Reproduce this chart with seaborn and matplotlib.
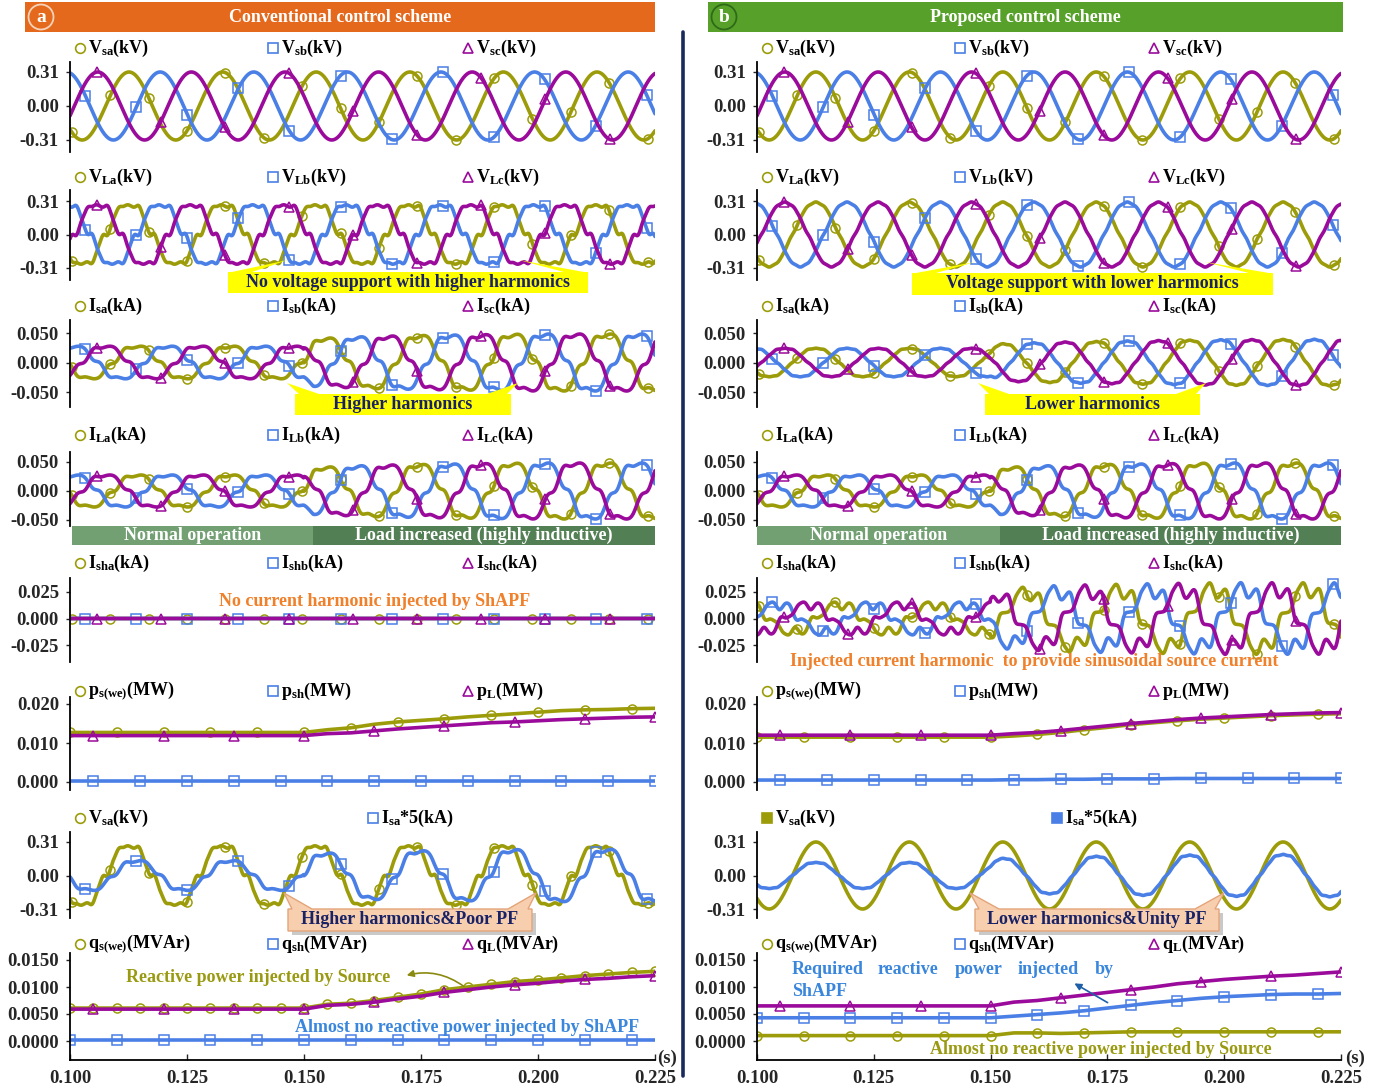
import numpy as np
import matplotlib
matplotlib.use("Agg")
import matplotlib.pyplot as plt
import seaborn as sns
from matplotlib.patches import Rectangle, Polygon, Ellipse, FancyArrowPatch
from matplotlib.lines import Line2D

sns.set_theme(style="white")
plt.rcParams["font.family"] = ["Liberation Serif", "DejaVu Serif"]
plt.rcParams["font.weight"] = "bold"
plt.rcParams["mathtext.fontset"] = "custom"
plt.rcParams["mathtext.rm"] = "Liberation Serif:bold"
plt.rcParams["mathtext.bf"] = "Liberation Serif:bold"
plt.rcParams["mathtext.it"] = "Liberation Serif:bold"

# ---------------------------------------------------------------- data
T_START, T_END, DT = 0.100, 0.225, 0.0001
F_GRID = 50.0
T_PEAK_VA = 0.1126                        # crest instant of phase-a source voltage
PHASE_SHIFT = [0.0, -2 * np.pi / 3, 2 * np.pi / 3]   # phases a, b, c

VS_AMP = 0.31

# load-bus voltage harmonic content: order, amplitude (kV), phase (rad)
VL_CONV_ORDER = [1, 5, 7, 11, 13]
VL_CONV_AMP = [0.285, 0.030, 0.016, 0.007, 0.004]
VL_CONV_PHASE = [0.0, np.pi, 0.4, 0.0, np.pi]

VL_PROP_ORDER = [1, 5, 7, 11]
VL_PROP_AMP = [0.300, 0.006, 0.004, 0.003]
VL_PROP_PHASE = [0.0, np.pi, 0.0, 0.0]

# load current: relative harmonic spectrum and envelope
IL_ORDER = [1, 5, 7]
IL_REL = [1.0, 0.12, 0.04]
IL_PHASE = [0.0, np.pi + 0.5, 0.0]
IL_ENV_T = [0.100, 0.150, 0.152, 0.165, 0.180, 0.200, 0.225]
IL_ENV_A = [0.028, 0.028, 0.041, 0.045, 0.047, 0.049, 0.049]
IL_LAG = [0.0016, 0.0020]                 # before / after the load step (s)
T_LOAD_STEP = 0.150

# compensated source current (proposed scheme)
IS_PROP_ORDER = [1, 5, 11]
IS_PROP_REL = [1.0, 0.03, 0.02]
IS_PROP_ENV_A = [0.0245, 0.0245, 0.032, 0.035, 0.037, 0.039, 0.040]

ISH_CONV_LEVEL = 0.0

# powers sampled every 5 ms from 0.100 s to 0.225 s
T_PQ = [0.100, 0.105, 0.110, 0.115, 0.120, 0.125, 0.130, 0.135, 0.140, 0.145,
        0.150, 0.155, 0.160, 0.165, 0.170, 0.175, 0.180, 0.185, 0.190, 0.195,
        0.200, 0.205, 0.210, 0.215, 0.220, 0.225]
PS_CONV = [0.0127] * 11 + [0.0134, 0.0139, 0.0148, 0.0154, 0.0158, 0.0162, 0.0167,
                           0.0171, 0.0175, 0.0179, 0.0183, 0.0185, 0.0186, 0.0188, 0.0189]
PSH_CONV = [0.0002] * 26
PL_CONV = [0.0119] * 11 + [0.0124, 0.0126, 0.0131, 0.0136, 0.0140, 0.0144, 0.0148,
                           0.0152, 0.0154, 0.0157, 0.0160, 0.0162, 0.0164, 0.0166, 0.0167]
PS_PROP = [0.0115] * 11 + [0.0118, 0.0122, 0.0127, 0.0134, 0.0140, 0.0147, 0.0152,
                           0.0157, 0.0161, 0.0164, 0.0167, 0.0170, 0.0172, 0.0174, 0.0175]
PSH_PROP = [0.0005] * 11 + [0.0006, 0.0006, 0.0007, 0.0007, 0.0008, 0.0008, 0.0008,
                            0.0009, 0.0009, 0.0009, 0.0009, 0.0009, 0.0009, 0.0009, 0.0009]
PL_PROP = [0.0120] * 11 + [0.0124, 0.0127, 0.0132, 0.0138, 0.0144, 0.0150, 0.0155,
                           0.0160, 0.0164, 0.0167, 0.0170, 0.0173, 0.0175, 0.0177, 0.0178]

QS_CONV = [0.0061] * 11 + [0.0068, 0.0070, 0.0075, 0.0081, 0.0087, 0.0095, 0.0100,
                           0.0105, 0.0110, 0.0113, 0.0117, 0.0121, 0.0124, 0.0127, 0.0129]
QSH_CONV = [0.0001] * 26
QL_CONV = [0.0059] * 11 + [0.0066, 0.0068, 0.0072, 0.0078, 0.0083, 0.0090, 0.0095,
                           0.0100, 0.0104, 0.0107, 0.0111, 0.0114, 0.0116, 0.0119, 0.0121]
QS_PROP = [0.0010] * 11 + [0.0015, 0.0015, 0.0014, 0.0015, 0.0016, 0.0017, 0.0017,
                           0.0017, 0.0017, 0.0017, 0.0017, 0.0017, 0.0017, 0.0017, 0.0017]
QSH_PROP = [0.0043] * 11 + [0.0046, 0.0049, 0.0052, 0.0056, 0.0061, 0.0066, 0.0071,
                            0.0075, 0.0079, 0.0082, 0.0084, 0.0086, 0.0087, 0.0087, 0.0088]
QL_PROP = [0.0065] * 11 + [0.0072, 0.0075, 0.0080, 0.0085, 0.0090, 0.0095, 0.0100,
                           0.0106, 0.0110, 0.0114, 0.0117, 0.0120, 0.0122, 0.0125, 0.0128]

XTICKS = [0.100, 0.125, 0.150, 0.175, 0.200, 0.225]
XTICK_LABELS = ["0.100", "0.125", "0.150", "0.175", "0.200", "0.225"]

# ---------------------------------------------------------------- signals
t = np.arange(T_START, T_END + DT / 2, DT)


def angle(ph, lag=0.0):
    return 2 * np.pi * F_GRID * (t - T_PEAK_VA - lag) + PHASE_SHIFT[ph]


def harmonic_wave(theta, orders, amps, phases):
    return sum(a * np.cos(n * theta + p) for n, a, p in zip(orders, amps, phases))


lag_t = np.where(t < T_LOAD_STEP, IL_LAG[0], IL_LAG[1])
il_env = np.interp(t, IL_ENV_T, IL_ENV_A)
is_env = np.interp(t, IL_ENV_T, IS_PROP_ENV_A)

VS = [VS_AMP * np.cos(angle(k)) for k in range(3)]
VL_CONV = [harmonic_wave(angle(k), VL_CONV_ORDER, VL_CONV_AMP, VL_CONV_PHASE) for k in range(3)]
VL_PROP = [harmonic_wave(angle(k), VL_PROP_ORDER, VL_PROP_AMP, VL_PROP_PHASE) for k in range(3)]
IL = [il_env * harmonic_wave(angle(k, lag_t), IL_ORDER, IL_REL, IL_PHASE) for k in range(3)]
IS_CONV = IL
IS_PROP = [is_env * harmonic_wave(angle(k), IS_PROP_ORDER, IS_PROP_REL, [0.0, np.pi, 0.0])
           for k in range(3)]
ISH_PROP = [IL[k] - IS_PROP[k] for k in range(3)]
ISH_CONV = [np.full_like(t, ISH_CONV_LEVEL) for _ in range(3)]

# ---------------------------------------------------------------- layout
W, H = 1390, 1091
fig = plt.figure(figsize=(W / 100, H / 100), dpi=100)

OLIVE, BLUE, PURPLE = "#9c9c0a", "#4a7fe6", "#9b0b9b"
PH_COLORS = [OLIVE, BLUE, PURPLE]
PH_MARKERS = ["o", "s", "^"]
MARK_STEP = [82, 109, 137]
MARK_OFF = [4, 33, 57]
NAVY = "#1a2266"
TICK_FS = 13.5
LEG_FS = 13

COL_X = {"L": (70, 655), "R": (757, 1341)}
ROW_Y = [(62, 152), (190, 280), (320, 407), (452, 526),
         (578, 662), (697, 790), (832, 918), (953, 1060)]
CAL = [(0.31, 72, -0.31, 140), (0.31, 201, -0.31, 268), (0.05, 333, -0.05, 392),
       (0.05, 462, -0.05, 520), (0.025, 592, -0.025, 645), (0.02, 704, 0.0, 782),
       (0.31, 842, -0.31, 909), (0.015, 960, 0.0, 1041)]
YT = [([-0.31, 0, 0.31], ["-0.31", "0.00", "0.31"])] * 2 + \
     [([-0.05, 0, 0.05], ["-0.050", "0.000", "0.050"])] * 2 + \
     [([-0.025, 0, 0.025], ["-0.025", "0.000", "0.025"]),
      ([0, 0.01, 0.02], ["0.000", "0.010", "0.020"]),
      ([-0.31, 0, 0.31], ["-0.31", "0.00", "0.31"]),
      ([0, 0.005, 0.01, 0.015], ["0.0000", "0.0050", "0.0100", "0.0150"])]


def fxy(px, py):
    return px / W, 1 - py / H


def make_ax(col, row):
    x0, x1 = COL_X[col]
    y0, y1 = ROW_Y[row]
    ax = fig.add_axes([x0 / W, 1 - y1 / H, (x1 - x0) / W, (y1 - y0) / H])
    v1, p1, v2, p2 = CAL[row]
    k = (v1 - v2) / (p2 - p1)
    ax.set_ylim(v1 + (p1 - y1) * k, v1 + (p1 - y0) * k)
    ax.set_xlim(T_START, T_END)
    ticks, labels = YT[row]
    ax.set_yticks(ticks)
    ax.set_yticklabels(labels, fontsize=TICK_FS, fontweight="bold")
    ax.tick_params(axis="y", direction="out", length=3, width=1.0, pad=5, left=True)
    for s in ["top", "right"]:
        ax.spines[s].set_visible(False)
    ax.spines["left"].set_color("black")
    ax.spines["left"].set_linewidth(1.3)
    if row == 7:
        ax.spines["bottom"].set_color("black")
        ax.spines["bottom"].set_linewidth(1.3)
        ax.set_xticks(XTICKS)
        ax.set_xticklabels(XTICK_LABELS, fontsize=TICK_FS, fontweight="bold")
        ax.tick_params(axis="x", direction="in", length=4, width=1.0, pad=7, bottom=True)
    else:
        ax.spines["bottom"].set_visible(False)
        ax.set_xticks([])
    ax.set_facecolor("none")
    ax.grid(False)
    return ax


def draw(ax, x, y, color, marker=None, every=None, lw=2.6, filled=False):
    kw = {}
    if marker is not None:
        kw = dict(marker=marker, markevery=every, ms=6.5, mew=1.1,
                  mfc=color if filled else "none", mec=color)
    sns.lineplot(x=x, y=y, ax=ax, color=color, lw=lw, estimator=None,
                 sort=False, legend=False, **kw)


def three_phase(ax, waves):
    for k in range(3):
        draw(ax, t, waves[k], PH_COLORS[k], PH_MARKERS[k], (MARK_OFF[k], MARK_STEP[k]))


def legend_row(y, items):
    for mx, label, color, marker, filled in items:
        fig.add_artist(Line2D([mx / W], [1 - y / H], transform=fig.transFigure,
                              marker=marker, ms=7 if not filled else 7.5, mew=1.2,
                              mfc=color if filled else "none", mec=color, ls="none"))
        fig.text((mx + 8) / W, 1 - y / H, label, ha="left", va="center",
                 fontsize=LEG_FS, fontweight="bold", color="black")


def fpoly(pts, fc, ec="none", lw=0, z=5):
    fig.add_artist(Polygon([fxy(*p) for p in pts], closed=True, transform=fig.transFigure,
                           fc=fc, ec=ec, lw=lw, zorder=z))


def callout(box, tips, fc, ec="none", text="", tcolor=NAVY, shadow=False, fs=13):
    x0, y0, x1, y1 = box
    if shadow:
        fpoly([(x0 + 4, y0 + 4), (x1 + 4, y0 + 4), (x1 + 4, y1 + 4), (x0 + 4, y1 + 4)], "#c9c9c9", z=4)
    (lx, ly), (rx, ry) = tips
    pts = [(x0, y1), (x0, y0), (x0 + 4, y0), (lx, ly), (x0 + 24, y0),
           (x1 - 24, y0), (rx, ry), (x1 - 4, y0), (x1, y0), (x1, y1)]
    fpoly(pts, fc, ec, 1.0 if ec != "none" else 0)
    fig.text((x0 + x1) / 2 / W, 1 - (y0 + y1) / 2 / H, text, ha="center", va="center",
             fontsize=fs, fontweight="bold", color=tcolor, zorder=6)


# ---------------------------------------------------------------- headers
def header(x0, x1, color, letter, title, ring):
    fig.add_artist(Rectangle(fxy(x0, 32), (x1 - x0) / W, 30 / H, transform=fig.transFigure,
                             fc=color, ec="none"))
    cx = x0 + 16
    fig.add_artist(Ellipse(fxy(cx, 17), 25 / W, 25 / H, transform=fig.transFigure,
                           fc="none", ec=ring, lw=1.3))
    fig.text(cx / W, 1 - 18 / H, letter, ha="center", va="center", color="white",
             fontsize=14, fontweight="bold")
    fig.text((x0 + x1) / 2 / W, 1 - 17 / H, title, ha="center", va="center", color="white",
             fontsize=13, fontweight="bold")


header(25, 655, "#e4691d", "a", "Conventional control scheme", "#f6d2b8")
header(708, 1343, "#57a12a", "b", "Proposed control scheme", "#2f6a18")

fig.add_artist(Line2D([683 / W, 683 / W], [1 - 32 / H, 1 - 1076 / H],
                      transform=fig.transFigure, color="#1b2a5c", lw=2.6))

# ---------------------------------------------------------------- panels
for col, vs, vl, isrc, ish, ps, psh, pl, qs, qsh, ql in [
        ("L", VS, VL_CONV, IS_CONV, ISH_CONV, PS_CONV, PSH_CONV, PL_CONV, QS_CONV, QSH_CONV, QL_CONV),
        ("R", VS, VL_PROP, IS_PROP, ISH_PROP, PS_PROP, PSH_PROP, PL_PROP, QS_PROP, QSH_PROP, QL_PROP)]:
    ax = make_ax(col, 0); three_phase(ax, vs)
    ax = make_ax(col, 1); three_phase(ax, vl)
    ax = make_ax(col, 2); three_phase(ax, isrc)
    ax = make_ax(col, 3); three_phase(ax, IL)
    ax = make_ax(col, 4); three_phase(ax, ish)
    ax = make_ax(col, 5)
    draw(ax, T_PQ, ps, OLIVE, "o", (0, 2))
    draw(ax, T_PQ, psh, BLUE, "s", (1, 2))
    draw(ax, T_PQ, pl, PURPLE, "^", (1, 3))
    ax = make_ax(col, 6)
    if col == "L":
        draw(ax, t, vl[0], OLIVE, "o", (MARK_OFF[0], MARK_STEP[0]))
        draw(ax, t, 5 * isrc[0], BLUE, "s", (MARK_OFF[1], MARK_STEP[1]))
    else:
        draw(ax, t, vs[0], OLIVE)
        draw(ax, t, 5 * isrc[0], BLUE)
    ax = make_ax(col, 7)
    if col == "L":
        draw(ax, T_PQ, qs, OLIVE, "o", (0, 1))
        draw(ax, T_PQ, qsh, BLUE, "s", (0, 2))
        draw(ax, T_PQ, ql, PURPLE, "^", (1, 3))
    else:
        draw(ax, T_PQ, ql, PURPLE, "^", (1, 3))
        draw(ax, T_PQ, qsh, BLUE, "s", (0, 2))
        draw(ax, T_PQ, qs, OLIVE, "o", (0, 2))

# ---------------------------------------------------------------- legends
LEG_Y = [48, 177, 306, 435, 563, 691, 818, 944]
LEG_LABELS = [
    (r"V$_{\mathbf{sa}}$(kV)", r"V$_{\mathbf{sb}}$(kV)", r"V$_{\mathbf{sc}}$(kV)"),
    (r"V$_{\mathbf{La}}$(kV)", r"V$_{\mathbf{Lb}}$(kV)", r"V$_{\mathbf{Lc}}$(kV)"),
    (r"I$_{\mathbf{sa}}$(kA)", r"I$_{\mathbf{sb}}$(kA)", r"I$_{\mathbf{sc}}$(kA)"),
    (r"I$_{\mathbf{La}}$(kA)", r"I$_{\mathbf{Lb}}$(kA)", r"I$_{\mathbf{Lc}}$(kA)"),
    (r"I$_{\mathbf{sha}}$(kA)", r"I$_{\mathbf{shb}}$(kA)", r"I$_{\mathbf{shc}}$(kA)"),
    (r"p$_{\mathbf{s(we)}}$(MW)", r"p$_{\mathbf{sh}}$(MW)", r"p$_{\mathbf{L}}$(MW)"),
    None,
    (r"q$_{\mathbf{s(we)}}$(MVAr)", r"q$_{\mathbf{sh}}$(MVAr)", r"q$_{\mathbf{L}}$(MVAr)"),
]
for r, labels in enumerate(LEG_LABELS):
    if labels is None:
        continue
    for xs in [(80, 273, 468), (767, 960, 1154)]:
        legend_row(LEG_Y[r], [(xs[k], labels[k], PH_COLORS[k], PH_MARKERS[k], False) for k in range(3)])

legend_row(818, [(80, r"V$_{\mathbf{sa}}$(kV)", OLIVE, "o", False),
                 (373, r"I$_{\mathbf{sa}}$*5(kA)", BLUE, "s", False)])
legend_row(818, [(767, r"V$_{\mathbf{sa}}$(kV)", OLIVE, "s", True),
                 (1057, r"I$_{\mathbf{sa}}$*5(kA)", BLUE, "s", True)])

# ---------------------------------------------------------------- operating-mode bands
for x0, xm, x1 in [(72, 313, 655), (757, 1000, 1341)]:
    for a, b, c, txt in [(x0, xm, "#72a073", "Normal operation"),
                         (xm, x1, "#537f55", "Load increased (highly inductive)")]:
        fig.add_artist(Rectangle(fxy(a, 545), (b - a) / W, 19 / H, transform=fig.transFigure,
                                 fc=c, ec="none", zorder=5))
        fig.text((a + b) / 2 / W, 1 - 535.5 / H, txt, ha="center", va="center",
                 color="white", fontsize=13, fontweight="bold", zorder=6)

# ---------------------------------------------------------------- callouts
YEL = "#ffff00"
callout((228, 272, 588, 293), [(288, 260), (519, 260)], YEL,
        text="No voltage support with higher harmonics")
callout((912, 273, 1273, 295), [(975, 262), (1205, 262)], YEL,
        text="Voltage support with lower harmonics")
callout((295, 394, 511, 415), [(287, 383), (518, 383)], YEL, text="Higher harmonics")
callout((985, 394, 1200, 415), [(978, 383), (1206, 383)], YEL, text="Lower harmonics")
callout((288, 909, 532, 931), [(284, 893), (536, 893)], "#f7cfae", ec="#e3a47a",
        text="Higher harmonics&Poor PF", shadow=True)
callout((975, 909, 1219, 931), [(970, 893), (1224, 893)], "#f7cfae", ec="#e3a47a",
        text="Lower harmonics&Unity PF", shadow=True)

# ---------------------------------------------------------------- text notes
ORANGE_TXT, OLIVE_TXT, BLUE_TXT = "#f0802a", "#9a9a12", "#3a86dc"
NOTE_FS = 13
fig.text(375 / W, 1 - 601 / H, "No current harmonic injected by ShAPF", ha="center",
         va="center", color=ORANGE_TXT, fontsize=NOTE_FS, fontweight="bold")
fig.text(1034 / W, 1 - 662 / H, "Injected current harmonic  to provide sinusoidal source current",
         ha="center", va="center", color=ORANGE_TXT, fontsize=NOTE_FS, fontweight="bold")
fig.text(258 / W, 1 - 977 / H, "Reactive power injected by Source", ha="center",
         va="center", color=OLIVE_TXT, fontsize=NOTE_FS, fontweight="bold")
fig.text(467 / W, 1 - 1027 / H, "Almost no reactive power injected by ShAPF", ha="center",
         va="center", color=BLUE_TXT, fontsize=NOTE_FS, fontweight="bold")
fig.text(1101 / W, 1 - 1050 / H, "Almost no reactive power injected by Source", ha="center",
         va="center", color=OLIVE_TXT, fontsize=NOTE_FS, fontweight="bold")
for wx, word in [(792, "Required"), (878, "reactive"), (955, "power"), (1018, "injected"), (1095, "by")]:
    fig.text(wx / W, 1 - 970 / H, word, ha="left", va="center", color=BLUE_TXT,
             fontsize=NOTE_FS, fontweight="bold")
fig.text(792 / W, 1 - 991 / H, "ShAPF", ha="left", va="center", color=BLUE_TXT,
         fontsize=NOTE_FS, fontweight="bold")

fig.add_artist(FancyArrowPatch(fxy(466, 988), fxy(404, 976), transform=fig.transFigure,
                               connectionstyle="arc3,rad=0.25", arrowstyle="-|>",
                               mutation_scale=10, color="#8a8a10", lw=1.2))
fig.add_artist(FancyArrowPatch(fxy(1110, 1004), fxy(1072, 982), transform=fig.transFigure,
                               connectionstyle="arc3,rad=0.0", arrowstyle="-|>",
                               mutation_scale=10, color="#1f5fa8", lw=1.2))

fig.text(667 / W, 1 - 1058 / H, "(s)", ha="center", va="center", fontsize=TICK_FS, fontweight="bold")
fig.text(1355 / W, 1 - 1058 / H, "(s)", ha="center", va="center", fontsize=TICK_FS, fontweight="bold")

fig.savefig("out.png", dpi=100, facecolor="white")
